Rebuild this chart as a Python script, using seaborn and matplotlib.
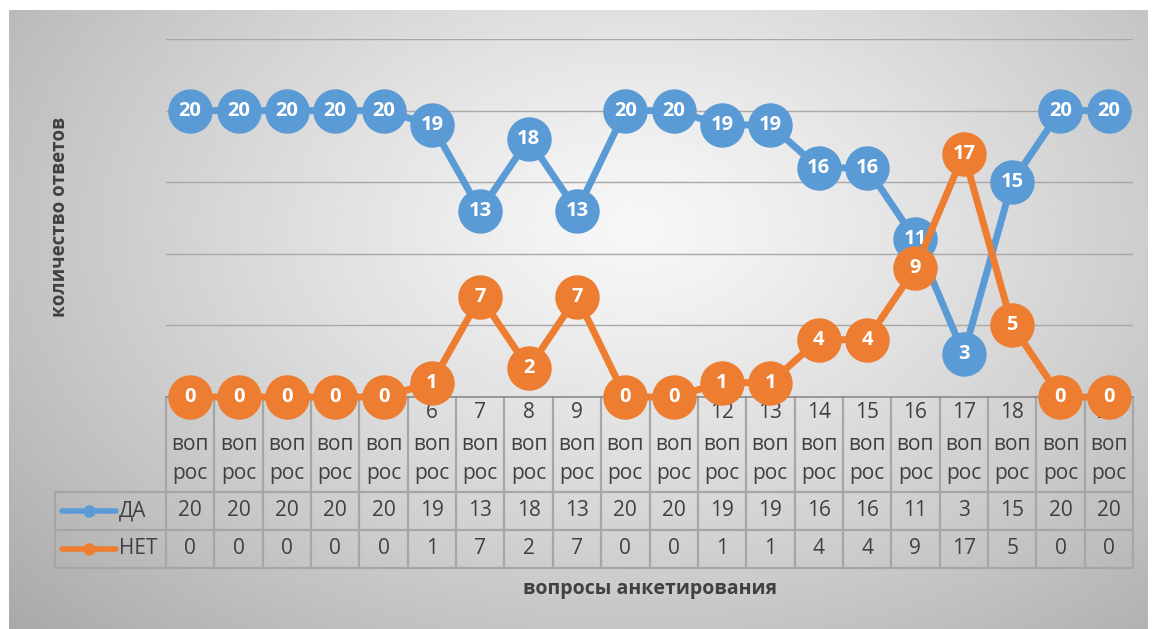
import numpy as np
import pandas as pd
import matplotlib
matplotlib.use("Agg")
import matplotlib.pyplot as plt
import matplotlib.transforms as mtransforms
import seaborn as sns

questions = [f"{i} вопрос" for i in range(1, 21)]
da = [20, 20, 20, 20, 20, 19, 13, 18, 13, 20, 20, 19, 19, 16, 16, 11, 3, 15, 20, 20]
net = [0, 0, 0, 0, 0, 1, 7, 2, 7, 0, 0, 1, 1, 4, 4, 9, 17, 5, 0, 0]
series_names = ["ДА", "НЕТ"]
colors = {"ДА": "#5B9BD5", "НЕТ": "#ED7D31"}

df = pd.DataFrame({
    "q": list(range(20)) * 2,
    "val": da + net,
    "series": ["ДА"] * 20 + ["НЕТ"] * 20,
})

sns.set_style("white")
plt.rcParams["font.family"] = ["Open Sans", "DejaVu Sans"]

W, H = 1152, 629
fig = plt.figure(figsize=(W / 100, H / 100), dpi=100)

# grey gradient chart area
bg = fig.add_axes([9 / W, 0, (1148 - 9) / W, (629 - 10) / H])
gx, gy = np.meshgrid(np.linspace(0, 1, 400), np.linspace(0, 1, 220))
d = np.sqrt(((gx - 0.55) / 0.72) ** 2 + ((gy - 0.35) / 0.9) ** 2)
grad = np.clip(0.97 - 0.29 * d ** 1.2, 0, 1)
bg.imshow(grad, cmap="gray", vmin=0, vmax=1, aspect="auto", extent=[0, 1, 0, 1])
bg.axis("off")

x0, x1, y0, y1 = 166, 1133, 397, 39
ax = fig.add_axes([x0 / W, 1 - y0 / H, (x1 - x0) / W, (y0 - y1) / H])
ax.set_facecolor("none")

for i, name in enumerate(series_names):
    sub = df[df["series"] == name]
    sns.lineplot(data=sub, x="q", y="val", color=colors[name], marker="o",
                 markersize=32, markeredgewidth=0, linewidth=5, ax=ax,
                 legend=False, zorder=3 + 2 * i, clip_on=False)
    for xv, yv in zip(sub["q"], sub["val"]):
        ax.text(xv, yv, str(yv), color="white", fontsize=14.5, fontweight="bold",
                ha="center", va="center", zorder=4 + 2 * i, clip_on=False)

ax.set_xlim(-0.5, 19.5)
ax.set_ylim(0, 25)
ax.set_yticks([0, 5, 10, 15, 20, 25])
ax.set_xticks([])
ax.tick_params(left=False, labelleft=False)
ax.grid(axis="y", color="#a8a8a8", linewidth=1.0)
ax.set_xlabel("")
ax.set_ylabel("")
for s in ["left", "right", "top"]:
    ax.spines[s].set_visible(False)
ax.spines["bottom"].set_color("#8c8c8c")
ax.spines["bottom"].set_linewidth(1.2)

# data table
ppx = (x1 - x0) / 20
def tx(p):
    return -0.5 + (p - x0) / ppx
def ty(p):
    return (y0 - p) / (y0 - y1)

tr = mtransforms.blended_transform_factory(ax.transData, ax.transAxes)
lc = "#a6a6a6"
tc = "#404040"
fs = 15
kw = dict(transform=tr, clip_on=False, color=lc, linewidth=1.6, zorder=1)
for k in range(21):
    xb = -0.5 + k
    ax.plot([xb, xb], [ty(397), ty(568)], **kw)
for yp in [492, 530, 568]:
    ax.plot([tx(55), 19.5], [ty(yp), ty(yp)], **kw)
ax.plot([tx(55), tx(55)], [ty(492), ty(568)], **kw)

for k, q in enumerate(questions):
    num, word = q.split(" ")
    for txt, yp in zip([num, word[:3], word[3:]], [413, 445, 473]):
        ax.text(k, ty(yp), txt, transform=tr, ha="center", va="center",
                fontsize=fs, color=tc, zorder=1, clip_on=False)
    ax.text(k, ty(511), str(da[k]), transform=tr, ha="center", va="center",
            fontsize=fs, color=tc, clip_on=False)
    ax.text(k, ty(549), str(net[k]), transform=tr, ha="center", va="center",
            fontsize=fs, color=tc, clip_on=False)

for name, yp in zip(series_names, [511, 549]):
    ax.plot([tx(62), tx(116)], [ty(yp), ty(yp)], transform=tr, clip_on=False,
            color=colors[name], linewidth=4, solid_capstyle="round")
    ax.plot([tx(89)], [ty(yp)], transform=tr, clip_on=False, marker="o",
            markersize=9, color=colors[name], markeredgewidth=0)
    ax.text(tx(119), ty(yp), name, transform=tr, ha="left", va="center",
            fontsize=fs, color=tc, clip_on=False)

fig.text(60 / W, 1 - 217 / H, "количество ответов", rotation=90, ha="center",
         va="center", fontsize=13.5, fontweight="bold", color=tc)
fig.text(650 / W, 1 - 589 / H, "вопросы анкетирования", ha="center",
         va="center", fontsize=14, fontweight="bold", color=tc)

fig.savefig("out.png", dpi=100)
